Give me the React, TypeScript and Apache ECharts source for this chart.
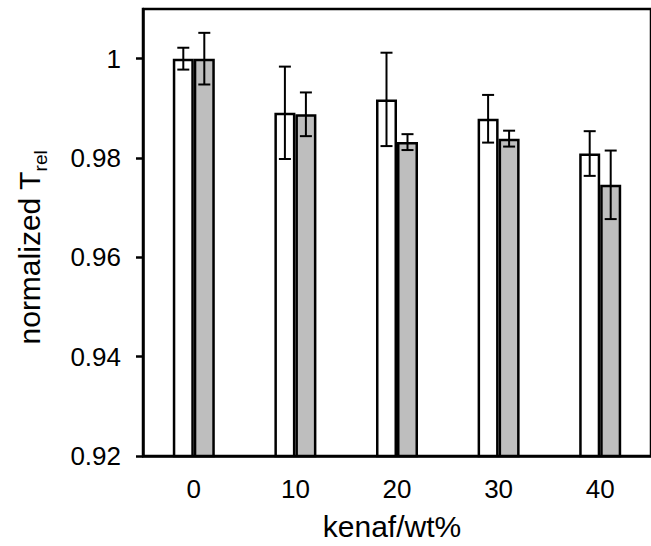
import React, { useEffect, useRef } from "react";
import * as echarts from "echarts";

const CATEGORIES = ["0", "10", "20", "30", "40"];
const WHITE_VALUES = [1.0, 0.9891, 0.9918, 0.9879, 0.9809];
const WHITE_ERRORS = [0.0022, 0.0093, 0.0094, 0.0048, 0.0045];
const GRAY_VALUES = [1.0, 0.9888, 0.9832, 0.9839, 0.9746];
const GRAY_ERRORS = [0.0052, 0.0044, 0.0016, 0.0016, 0.0069];
const Y_TICKS = [0.92, 0.94, 0.96, 0.98, 1];
const Y_MIN = 0.92;
const Y_MAX = 1.01;

const FONT = "'Liberation Sans', Arial, sans-serif";
const BAR_W = 21;
const CAP = 6;

function errorSeries(values: number[], errors: number[], offset: number) {
  return {
    type: "custom",
    z: 5,
    data: values.map((v, i) => [i, v, errors[i]]),
    encode: { x: 0, y: 1 },
    renderItem: (params: any, api: any) => {
      const idx = api.value(0);
      const mean = api.value(1);
      const err = api.value(2);
      const hi = api.coord([idx, mean + err]);
      const lo = api.coord([idx, mean - err]);
      const x = hi[0] + offset;
      const style = { stroke: "#000", lineWidth: 2 };
      return {
        type: "group",
        children: [
          { type: "line", shape: { x1: x, y1: hi[1], x2: x, y2: lo[1] }, style },
          { type: "line", shape: { x1: x - CAP, y1: hi[1], x2: x + CAP, y2: hi[1] }, style },
          { type: "line", shape: { x1: x - CAP, y1: lo[1], x2: x + CAP, y2: lo[1] }, style },
        ],
      };
    },
  };
}

export default function App() {
  const ref = useRef<HTMLDivElement>(null);
  useEffect(() => {
    if (!ref.current) return;
    const chart = echarts.init(ref.current, null, { renderer: "svg" });
    chart.setOption({
      animation: false,
      backgroundColor: "#fff",
      textStyle: { fontFamily: FONT },
      grid: {
        left: 143,
        top: 9,
        width: 520,
        height: 450,
        show: true,
        borderColor: "#000",
        borderWidth: 2.5,
        backgroundColor: "transparent",
      },
      xAxis: {
        type: "category",
        data: CATEGORIES,
        boundaryGap: true,
        name: "kenaf/wt%",
        nameLocation: "middle",
        nameGap: 55,
        nameTextStyle: { fontSize: 30, color: "#000", fontFamily: FONT, padding: [0, 10, 0, 0] },
        axisLine: { lineStyle: { color: "#000", width: 2.5 } },
        axisTick: { alignWithLabel: true, length: 7, lineStyle: { color: "#000", width: 2.5 } },
        axisLabel: { fontSize: 26, color: "#000", margin: 20, fontFamily: FONT },
        splitLine: { show: false },
      },
      yAxis: {
        type: "value",
        min: Y_MIN,
        max: Y_MAX,
        name: "{a|normalized T}{b|rel}",
        nameLocation: "middle",
        nameRotate: 90,
        nameGap: 99,
        nameTextStyle: {
          color: "#000",
          fontFamily: FONT,
          padding: [0, 30, 0, 0],
          rich: {
            a: { fontSize: 30, color: "#000", fontFamily: FONT, lineHeight: 34, verticalAlign: "bottom" },
            b: { fontSize: 19, color: "#000", fontFamily: FONT, verticalAlign: "bottom", padding: [0, 0, -6, 0] },
          },
        },
        axisLine: { show: true, lineStyle: { color: "#000", width: 2.5 } },
        axisTick: { show: true, length: 7, customValues: Y_TICKS, lineStyle: { color: "#000", width: 2.5 } },
        axisLabel: {
          fontSize: 26,
          color: "#000",
          margin: 22,
          fontFamily: FONT,
          customValues: Y_TICKS,
          formatter: (v: number) => String(v),
        },
        splitLine: { show: false },
      },
      series: [
        {
          type: "bar",
          data: WHITE_VALUES,
          barWidth: BAR_W,
          barGap: "0%",
          itemStyle: { color: "#fff", borderColor: "#000", borderWidth: 2.5 },
        },
        {
          type: "bar",
          data: GRAY_VALUES,
          barWidth: BAR_W,
          barGap: "0%",
          itemStyle: { color: "#bebebe", borderColor: "#000", borderWidth: 2.5 },
        },
        errorSeries(WHITE_VALUES, WHITE_ERRORS, -BAR_W / 2),
        errorSeries(GRAY_VALUES, GRAY_ERRORS, BAR_W / 2),
      ],
    });
    return () => chart.dispose();
  }, []);
  return (
    <div
      ref={ref}
      style={{ position: "absolute", left: 0, top: 0, width: 651, height: 546 }}
    />
  );
}
